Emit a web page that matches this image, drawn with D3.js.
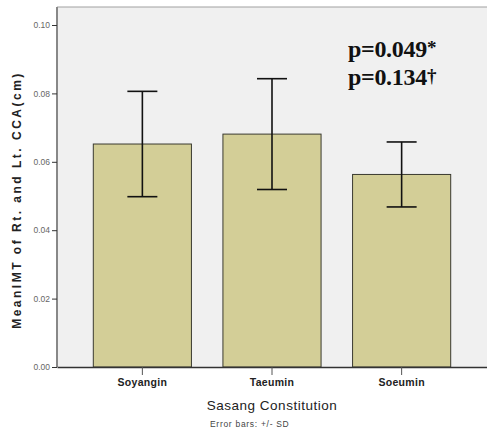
<!DOCTYPE html>
<html>
<head>
<meta charset="utf-8">
<script src="https://cdn.jsdelivr.net/npm/d3@7"></script>
<style>
  body { margin: 0; background: #fff; }
  svg { display: block; }
</style>
</head>
<body>
<div id="chart"></div>
<script>
var groups = ["Soyangin", "Taeumin", "Soeumin"];
var means = [0.0652, 0.0681, 0.0563];
var sds = [0.0154, 0.0162, 0.0095];
var yTicks = [0.00, 0.02, 0.04, 0.06, 0.08, 0.10];

var W = 487, H = 432;
var margin = {top: 7, right: 0, bottom: 65, left: 57}
  , width = W - margin.left - margin.right
  , height = H - margin.top - margin.bottom;

var svg = d3.select("#chart").append("svg")
    .attr("width", W)
    .attr("height", H);

var g = svg.append("g")
    .attr("transform", "translate(" + margin.left + "," + margin.top + ")");

var xScale = d3.scaleBand()
    .domain(groups)
    .range([0, width])
    .paddingInner(0.243)
    .paddingOuter(0.28);

// 0.10 sits 18px under the frame top
var yScale = d3.scaleLinear()
    .domain([0, 0.10])
    .range([height, 18]);

// plot background
g.append("rect")
    .attr("width", width)
    .attr("height", height)
    .attr("fill", "#f0f0f0");

g.append("line")
    .attr("x1", 0).attr("x2", width)
    .attr("y1", 0).attr("y2", 0)
    .attr("stroke", "#a0a0a0");

var data = groups.map(function(d, i) { return {g: d, m: means[i], sd: sds[i]}; });

g.selectAll(".bar")
    .data(data)
  .enter().append("rect")
    .attr("class", "bar")
    .attr("x", function(d) { return xScale(d.g); })
    .attr("y", function(d) { return yScale(d.m); })
    .attr("width", xScale.bandwidth())
    .attr("height", function(d) { return yScale(0) - yScale(d.m); })
    .attr("fill", "#d3ce97")
    .attr("stroke", "#3a3a30")
    .attr("stroke-width", 1);

// error bars
var cap = 15;
var eb = g.selectAll(".err")
    .data(data)
  .enter().append("g")
    .attr("class", "err")
    .attr("stroke", "#111")
    .attr("stroke-width", 1.6);
eb.append("line")
    .attr("x1", function(d) { return xScale(d.g) + xScale.bandwidth() / 2; })
    .attr("x2", function(d) { return xScale(d.g) + xScale.bandwidth() / 2; })
    .attr("y1", function(d) { return yScale(d.m + d.sd); })
    .attr("y2", function(d) { return yScale(d.m - d.sd); });
[1, -1].forEach(function(s) {
  eb.append("line")
    .attr("x1", function(d) { return xScale(d.g) + xScale.bandwidth() / 2 - cap; })
    .attr("x2", function(d) { return xScale(d.g) + xScale.bandwidth() / 2 + cap; })
    .attr("y1", function(d) { return yScale(d.m + s * d.sd); })
    .attr("y2", function(d) { return yScale(d.m + s * d.sd); });
});

// y axis
var yAxis = g.append("g")
    .call(d3.axisLeft(yScale).tickValues(yTicks).tickFormat(d3.format(".2f")).tickSize(5).tickSizeOuter(0));
yAxis.select(".domain").attr("stroke", "#888").attr("stroke-width", 2).attr("d", "M0," + height + "V0");
yAxis.selectAll(".tick line").attr("stroke", "#333");
yAxis.selectAll(".tick text")
    .attr("font-family", "Arial, 'Liberation Sans', sans-serif")
    .attr("font-size", 8.5)
    .attr("fill", "#666")
    .attr("x", -7);

// x axis
var xAxis = g.append("g")
    .attr("transform", "translate(0," + height + ")")
    .call(d3.axisBottom(xScale).tickSize(8).tickSizeOuter(0));
xAxis.select(".domain").attr("stroke", "#333").attr("stroke-width", 1.5);
xAxis.selectAll(".tick line").attr("stroke", "#555");
xAxis.selectAll(".tick text")
    .attr("font-family", "Arial, 'Liberation Sans', sans-serif")
    .attr("font-size", 10.5)
    .attr("font-weight", "bold")
    .attr("letter-spacing", 0.3)
    .attr("fill", "#222")
    .attr("y", 12);

svg.append("text")
    .attr("x", margin.left + xScale("Taeumin") + xScale.bandwidth() / 2)
    .attr("y", 410)
    .attr("text-anchor", "middle")
    .attr("font-family", "Arial, 'Liberation Sans', sans-serif")
    .attr("font-size", 13.5)
    .attr("letter-spacing", 0.5)
    .attr("fill", "#222")
    .text("Sasang Constitution");

svg.append("text")
    .attr("x", 210)
    .attr("y", 427)
    .attr("font-family", "Arial, 'Liberation Sans', sans-serif")
    .attr("font-size", 8.5)
    .attr("letter-spacing", 0.7)
    .attr("fill", "#444")
    .text("Error bars: +/- SD");

svg.append("text")
    .attr("transform", "translate(21," + 200 + ") rotate(-90)")
    .attr("text-anchor", "middle")
    .attr("font-family", "Arial, 'Liberation Sans', sans-serif")
    .attr("font-size", 12)
    .attr("font-weight", "bold")
    .attr("letter-spacing", 2.5)
    .attr("fill", "#222")
    .text("MeanIMT of Rt. and Lt. CCA(cm)");

// p values
var pTexts = [["p=0.049", "*"], ["p=0.134", "\u2020"]];
var py = [57, 85];
pTexts.forEach(function(p, i) {
  var t = svg.append("text")
      .attr("x", 348)
      .attr("y", py[i])
      .attr("font-family", "'Liberation Serif', 'Times New Roman', serif")
      .attr("font-size", 24)
      .attr("font-weight", "bold")
      .attr("fill", "#111")
      .attr("letter-spacing", -0.3);
  t.append("tspan").text(p[0]);
  t.append("tspan").attr("font-size", 19).attr("dy", -3).text(p[1]);
});
</script>
</body>
</html>
